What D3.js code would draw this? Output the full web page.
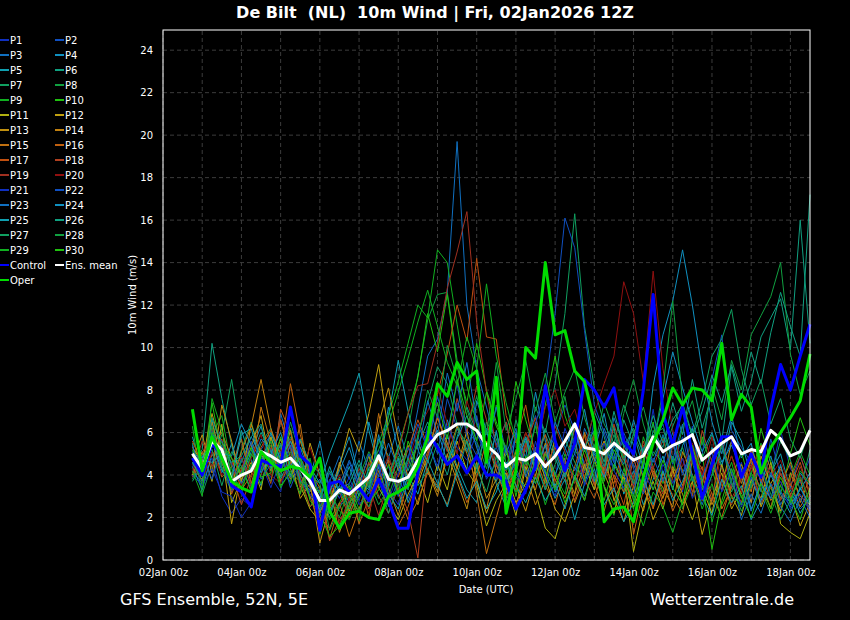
<!DOCTYPE html>
<html>
<head>
<meta charset="utf-8">
<script src="https://cdn.jsdelivr.net/npm/d3@7"></script>
<style>
  html, body { margin: 0; padding: 0; background: #000; }
  svg { display: block; font-family: "DejaVu Sans", sans-serif; }
</style>
</head>
<body>
<svg id="chart" width="850" height="620"></svg>
<script>
// run 02Jan2026 12Z, 6-hourly steps from +6h to +384h
const runTime = Date.UTC(2026, 0, 2, 12);
const stepHours = d3.range(6, 385, 6);

const memberNames = d3.range(1, 31).map((n) => "P" + n);
const memberColors = [
  "#1030c0", "#1050c0", "#1070c0", "#1090c0", "#10a0b0",
  "#10a080", "#10a060", "#10a040", "#10b020", "#20c010",
  "#b0b010", "#c0a010", "#c09010", "#c08010", "#c07010",
  "#c06010", "#c05010", "#b04020", "#a03020", "#901010",
];

const yTicks = d3.range(0, 25, 2);
const xTickDays = [2, 4, 6, 8, 10, 12, 14, 16, 18];

// ensemble members, m/s
const P1 = [4.2,3.6,4.8,3.0,2.2,2.9,2.5,4.4,3.9,3.2,5.6,4.0,3.4,2.1,3.0,2.4,
  3.6,2.8,4.1,5.2,3.3,2.6,4.4,5.8,4.6,6.9,5.2,7.4,6.1,5.5,3.8,4.6,
  3.1,5.9,4.2,3.6,5.1,3.9,6.2,5.0,4.1,6.6,3.8,4.9,5.8,3.5,4.4,7.1,
  4.0,5.6,3.2,6.3,2.9,4.8,5.5,3.4,4.6,2.7,5.2,3.9,6.1,4.3,3.6,4.8];
const P2 = [4.6,3.9,6.1,4.3,3.2,4.8,3.5,5.2,5.9,4.1,3.7,5.0,4.3,3.1,2.2,3.5,
  2.7,4.0,3.1,4.4,2.5,3.8,2.9,4.1,6.3,5.0,7.6,6.2,5.1,6.8,4.5,5.3,
  4.0,3.2,5.5,6.8,4.7,5.9,7.3,6.1,4.5,3.6,5.2,4.4,6.0,4.8,3.3,5.6,
  6.4,4.5,5.8,3.7,4.9,8.5,10.6,6.1,5.3,4.6,3.2,5.7,4.0,3.4,4.9,3.6];
const P3 = [5.1,4.4,5.3,6.2,3.9,4.6,5.8,4.9,4.2,6.9,5.3,3.8,3.0,2.4,3.7,4.9,
  3.8,5.6,4.2,3.5,4.8,6.3,4.7,7.1,9.6,10.4,12.6,19.7,12.0,9.0,7.2,5.4,
  6.5,4.1,5.8,4.6,3.3,5.4,4.6,3.8,6.2,5.1,4.3,6.7,5.4,4.5,3.4,5.1,
  4.6,6.0,4.1,5.2,3.5,2.8,4.5,5.6,3.9,2.3,3.7,4.4,2.6,3.5,2.4,2.9];
const P4 = [4.4,3.3,5.0,4.1,5.5,3.9,5.1,6.3,4.6,5.4,4.0,4.8,3.9,5.6,3.2,4.5,
  5.8,3.9,6.5,4.6,7.2,5.1,3.8,4.5,5.7,4.2,6.6,5.0,4.3,7.5,6.1,4.2,
  3.1,6.0,4.8,7.9,5.6,4.0,5.2,6.4,4.3,5.1,6.9,4.6,3.7,6.0,4.3,8.2,
  10.6,12.2,14.6,12.0,8.9,6.5,5.0,6.8,4.8,5.5,3.6,4.9,3.2,2.7,4.1,3.5];
const P5 = [5.8,4.2,6.6,4.5,4.0,6.1,4.7,3.5,5.2,3.9,4.6,5.7,4.4,3.6,5.0,6.2,
  7.4,8.8,6.1,4.3,6.8,9.4,7.0,5.2,4.1,3.4,5.9,4.4,3.3,2.7,4.8,3.6,
  2.5,4.1,3.2,5.3,4.1,2.9,3.8,1.9,3.6,5.0,4.2,6.3,3.1,4.2,2.6,3.8,
  4.9,3.3,5.4,6.2,3.7,5.3,4.4,6.5,5.6,3.9,2.6,4.1,5.0,3.3,2.2,3.0];
const P6 = [4.5,5.2,10.2,7.6,5.4,3.7,4.9,6.0,5.1,3.8,4.7,4.0,3.2,4.3,2.6,3.9,
  3.1,4.5,3.6,5.7,4.9,3.5,4.6,5.4,6.5,5.2,4.0,5.8,7.2,6.0,4.9,3.7,
  5.0,4.3,3.4,4.6,5.9,4.8,3.7,6.3,5.1,7.0,5.8,4.2,6.6,5.4,3.9,6.1,
  5.3,7.4,5.9,8.5,6.2,7.8,5.6,9.1,7.0,8.4,10.5,11.4,12.3,9.9,16.0,10.2];
const P7 = [5.5,3.1,4.5,5.9,8.5,5.6,4.2,5.5,6.2,4.5,5.8,4.7,3.6,2.8,4.2,3.3,
  2.2,3.1,4.0,2.9,3.8,4.6,3.3,5.9,7.4,9.1,8.3,6.4,5.2,4.1,6.5,5.7,
  4.2,6.6,5.1,7.2,6.0,8.3,11.6,16.3,11.0,8.1,6.4,5.5,7.3,6.0,4.8,5.9,
  6.2,4.6,5.3,3.7,4.8,5.9,4.4,3.2,4.5,3.6,5.1,4.0,5.6,4.7,3.3,5.2];
const P8 = [3.8,4.9,5.7,4.4,3.4,5.2,6.5,4.8,3.7,5.3,6.2,4.1,2.9,3.5,2.3,1.6,
  2.8,3.9,5.1,4.2,3.0,4.4,6.1,8.7,11.3,12.5,12.6,9.4,7.1,5.6,4.3,6.0,
  3.8,5.2,4.1,6.5,3.6,5.8,7.7,5.2,4.4,3.3,5.6,4.7,6.9,8.5,6.4,4.9,
  5.8,4.1,6.3,7.5,5.4,8.2,6.6,9.4,8.0,10.6,11.5,12.4,14.0,9.7,7.8,8.9];
const P9 = [6.3,3.4,5.9,6.8,4.3,3.1,5.0,4.2,5.7,4.8,3.6,5.3,4.6,1.2,2.9,2.0,
  3.4,1.8,4.6,5.5,6.8,8.4,10.2,12.0,11.4,14.6,14.0,11.1,8.2,6.4,5.1,7.3,
  4.5,3.2,5.6,4.3,2.6,4.0,3.1,5.5,4.2,6.1,3.4,2.1,4.3,3.0,5.8,4.4,
  3.2,4.9,2.4,3.6,5.0,1.8,3.3,4.6,2.9,4.1,5.5,3.4,2.2,3.9,5.1,4.0];
const P10 = [4.9,4.2,7.4,5.0,3.6,4.4,3.2,4.7,5.4,3.5,4.1,3.7,2.5,3.3,1.9,2.7,
  3.5,2.4,3.2,4.8,3.7,5.3,6.9,8.6,11.6,9.8,12.5,9.1,7.4,10.2,8.0,6.5,
  5.1,8.4,6.6,5.0,7.3,9.6,6.8,5.5,4.2,6.0,3.7,5.2,4.4,2.8,4.6,6.5,
  3.6,5.5,4.2,3.0,5.8,4.3,2.6,3.8,5.1,3.4,6.2,4.6,3.1,5.0,6.7,5.4];
const P11 = [4.0,5.1,3.7,6.4,2.7,3.8,4.6,3.3,5.8,4.4,6.1,3.5,2.4,1.8,2.9,3.8,
  2.3,3.6,4.9,3.4,2.6,1.9,3.1,4.0,2.7,4.5,3.3,5.6,4.2,3.5,1.6,2.8,
  3.6,2.1,4.4,3.2,1.5,1.0,2.6,3.9,2.8,4.7,3.5,2.2,4.1,0.4,2.5,3.7,
  2.4,4.2,3.1,1.9,3.4,2.2,4.5,3.0,2.1,3.8,2.9,4.6,1.7,1.3,1.0,2.2];
const P12 = [5.3,4.6,6.9,5.1,1.7,4.2,5.3,6.8,4.4,5.7,4.3,3.1,5.5,4.0,2.7,4.4,
  6.2,5.1,6.9,9.2,6.0,4.2,5.4,3.6,4.9,6.7,5.5,4.3,6.1,3.8,2.2,3.5,
  4.1,2.7,3.6,5.0,3.9,2.4,1.8,3.1,4.5,3.3,5.2,2.8,3.9,2.5,3.6,1.9,
  3.0,4.3,2.6,3.7,1.2,2.9,4.1,2.4,3.3,4.8,2.5,3.6,4.4,3.1,1.6,2.7];
const P13 = [4.7,5.9,4.1,7.3,5.6,3.7,6.4,5.0,4.2,6.6,4.8,2.9,3.6,0.8,2.5,4.6,
  3.1,2.2,4.0,6.4,8.1,5.7,3.9,2.6,4.3,3.2,5.0,3.7,2.4,4.6,2.9,3.8,
  5.2,3.5,2.3,4.0,5.5,3.4,4.8,2.7,3.9,5.4,4.1,2.9,1.8,3.5,2.3,4.2,
  3.4,2.5,5.1,4.0,2.8,4.5,3.3,5.6,4.2,2.7,4.9,3.5,2.3,4.1,3.0,2.6];
const P14 = [5.0,4.4,6.5,4.6,3.5,5.1,6.3,8.5,6.2,4.9,3.8,5.6,4.1,2.2,3.4,1.3,
  2.6,3.9,2.0,4.7,3.4,2.1,3.7,5.6,4.2,3.0,4.9,6.3,5.0,3.6,2.4,4.5,
  3.3,5.1,4.0,2.6,3.8,5.7,4.3,3.1,6.0,4.7,5.6,3.4,2.2,3.9,5.2,4.0,
  2.9,4.4,3.5,5.3,4.0,2.6,3.7,4.9,3.6,5.2,4.1,2.8,3.5,4.6,2.7,3.9];
const P15 = [4.3,3.8,5.4,6.0,4.8,3.3,4.0,7.2,5.5,3.7,4.5,6.4,3.4,2.0,1.5,2.7,
  1.1,2.4,3.8,6.9,4.6,3.2,1.9,2.8,4.1,3.5,2.6,4.3,5.7,3.1,0.3,2.0,
  3.7,2.5,4.6,3.3,5.1,3.8,2.9,4.4,5.9,3.6,2.3,4.0,3.2,5.0,3.9,2.4,
  4.1,3.0,2.2,4.7,3.6,5.2,2.4,3.4,4.5,3.2,5.4,4.3,2.9,3.6,2.5,3.3];
const P16 = [4.8,4.1,5.8,3.9,4.4,5.7,3.6,5.3,6.1,5.0,8.3,5.9,4.2,3.4,1.0,2.6,
  3.3,1.7,2.9,4.2,3.0,1.6,2.5,3.8,5.1,6.7,5.3,4.0,2.7,3.9,5.6,4.2,
  2.9,4.6,6.0,4.9,3.5,2.6,4.3,5.6,3.8,2.9,4.4,3.6,5.3,1.2,3.3,2.5,
  3.9,2.3,3.4,5.0,4.3,3.1,2.0,3.6,2.7,4.4,3.3,2.5,4.1,2.9,3.8,2.1];
const P17 = [5.6,4.5,4.9,5.7,3.1,4.3,5.5,4.7,3.6,7.1,6.0,4.5,3.0,1.6,2.4,3.2,
  2.0,3.5,2.4,3.6,4.7,3.9,5.2,6.6,5.4,7.8,9.7,12.0,10.3,14.2,10.5,10.4,
  6.8,5.5,7.3,4.8,5.9,3.7,4.6,6.2,4.9,3.5,5.1,3.9,2.6,4.8,3.2,4.4,
  2.6,3.9,4.8,3.2,4.4,2.8,5.6,4.0,3.1,4.7,3.8,2.4,4.3,3.5,4.6,3.0];
const P18 = [3.9,5.0,6.2,4.7,4.1,2.6,3.9,5.1,4.5,6.6,5.2,3.9,2.5,3.0,0.9,1.9,
  2.5,3.3,4.6,3.0,2.2,3.4,2.3,0.1,4.9,6.3,5.1,7.6,6.0,8.2,6.6,4.4,
  4.2,3.3,5.4,6.7,4.5,5.3,3.9,2.8,4.3,5.8,4.0,6.4,4.8,3.4,5.6,4.1,
  3.1,5.4,4.2,3.0,6.1,4.6,3.5,2.6,4.0,5.1,3.7,4.4,2.8,3.8,4.9,3.6];
const P19 = [4.1,5.6,4.4,5.2,3.8,4.9,3.4,4.0,5.3,4.1,5.7,3.3,4.5,2.7,3.6,1.7,
  2.9,4.3,3.5,2.1,3.7,5.1,6.9,8.2,8.3,10.2,12.8,14.5,16.4,11.2,7.9,5.3,
  6.5,4.2,5.5,3.8,4.9,6.3,5.1,3.6,4.6,5.9,4.4,3.2,5.0,3.8,5.4,4.3,
  5.7,4.0,3.3,4.8,3.5,5.2,4.3,2.9,3.8,4.5,2.7,3.4,4.1,3.0,4.4,3.2];
const P20 = [4.5,3.7,5.1,4.0,4.6,3.5,4.8,5.9,4.0,3.6,5.0,4.2,5.3,3.9,3.1,4.0,
  2.8,3.4,2.2,3.9,4.9,3.5,4.5,6.2,7.0,8.2,6.4,5.0,7.5,6.0,5.4,4.6,
  5.2,4.3,6.0,5.1,7.2,8.0,6.3,7.1,5.4,6.9,8.3,9.6,13.1,11.6,8.4,13.6,
  9.0,6.1,4.4,5.5,4.0,5.8,3.6,4.9,3.2,4.3,5.3,3.9,4.7,3.3,4.0,2.8];
const P21 = [4.0,3.5,4.3,3.2,3.0,2.0,2.7,4.6,3.4,4.7,3.9,4.4,3.1,2.5,3.8,2.9,
  3.9,2.6,3.2,4.5,2.8,4.1,5.3,4.2,5.6,4.4,6.3,5.3,4.7,6.0,4.9,3.8,
  5.4,4.2,3.1,5.6,4.0,3.0,4.7,5.8,3.5,4.6,5.5,4.2,3.4,5.0,4.1,3.3,
  4.5,3.6,4.8,2.9,3.9,5.1,3.2,4.3,2.5,3.5,4.4,2.9,3.7,2.4,3.1,2.3];
const P22 = [4.4,4.9,3.8,5.4,3.4,4.1,5.6,3.8,4.5,5.1,3.4,4.6,3.7,2.9,4.1,3.2,
  4.6,3.4,5.0,3.9,4.4,3.0,4.8,6.4,5.2,7.7,6.0,8.3,5.8,4.9,6.2,5.5,
  4.3,5.9,4.5,6.4,8.1,11.6,16.1,14.7,10.8,7.3,6.0,4.6,5.7,4.3,3.1,4.8,
  3.7,5.5,4.0,5.1,3.3,4.4,5.6,3.6,2.6,3.9,2.8,4.1,3.2,2.5,3.4,2.4];
const P23 = [5.4,4.0,5.9,5.6,4.5,3.6,4.4,5.7,5.2,4.3,5.4,3.7,3.3,3.8,2.8,3.5,
  4.7,3.6,2.8,4.0,5.5,4.3,3.4,5.0,7.5,5.9,8.8,7.0,9.3,6.5,5.0,7.2,
  5.0,6.2,3.9,5.2,4.1,6.5,5.3,4.2,5.5,3.7,6.2,5.0,4.0,3.1,5.3,4.6,
  5.9,4.7,6.4,3.9,2.6,4.0,5.3,4.1,1.9,3.1,2.2,3.6,2.5,1.8,2.9,2.0];
const P24 = [4.9,4.7,4.6,5.0,4.9,6.4,5.4,4.1,5.0,6.0,4.4,5.3,4.0,2.3,3.2,4.2,
  5.3,3.8,3.3,5.9,3.5,4.8,2.7,3.9,5.4,6.1,4.6,5.7,6.8,5.3,3.9,6.1,
  3.7,4.6,5.7,4.2,5.4,3.2,4.1,5.0,7.1,4.8,3.9,5.4,4.5,6.6,4.9,5.5,
  7.6,9.8,8.1,6.5,5.1,6.0,4.6,5.4,4.3,2.4,3.6,2.9,4.5,2.6,3.3,4.1];
const P25 = [5.0,4.8,5.6,4.2,3.8,5.9,6.2,4.5,6.0,4.7,5.6,4.5,3.8,2.9,4.4,3.1,
  4.4,3.0,4.3,5.0,3.1,2.4,4.0,3.1,4.7,3.6,2.5,4.1,2.9,3.7,2.4,3.2,
  4.6,3.5,2.7,3.9,2.8,3.6,2.4,4.0,3.0,4.3,2.6,3.4,1.8,2.7,3.9,2.6,
  4.2,2.8,3.7,5.0,3.0,2.1,3.8,2.7,3.5,1.9,2.8,4.0,3.1,2.2,3.4,2.6];
const P26 = [4.6,3.7,6.7,5.3,4.6,4.9,5.8,6.4,4.3,5.5,3.9,5.7,4.5,4.1,2.2,3.3,
  3.6,4.7,3.4,4.9,3.9,5.4,4.2,5.5,4.6,6.0,5.3,4.0,5.6,4.3,6.1,5.0,
  3.4,4.9,5.8,4.3,6.2,5.0,3.9,6.5,5.3,6.1,4.6,7.0,5.3,6.2,5.1,6.8,
  5.5,6.6,7.3,5.8,7.0,8.7,7.4,9.2,7.6,9.8,8.3,10.7,12.6,11.0,9.6,17.2];
const P27 = [3.7,4.5,5.2,3.5,5.1,4.4,3.3,5.2,4.7,3.9,6.5,4.9,3.5,3.2,2.0,3.4,
  2.4,3.3,2.5,3.8,2.2,3.6,4.8,3.5,4.2,5.5,4.5,6.2,5.5,4.3,3.2,4.9,
  2.8,3.9,3.4,4.7,3.3,4.5,5.7,4.6,3.7,5.4,4.4,5.9,4.7,3.6,5.1,6.4,
  5.0,6.3,7.4,5.9,7.5,9.6,10.4,11.8,9.0,7.3,8.5,6.4,7.6,5.7,4.8,6.2];
const P28 = [4.8,4.3,6.3,4.4,3.3,4.7,5.0,4.3,5.6,4.2,5.1,3.6,4.0,3.6,1.4,2.5,
  3.0,2.3,3.7,2.6,3.4,4.9,3.7,5.7,8.0,6.7,10.1,8.5,6.2,7.7,5.9,9.3,
  6.1,7.6,9.4,7.0,8.8,6.5,7.9,9.0,6.7,5.3,7.4,6.1,4.8,5.9,7.2,5.4,
  8.0,12.2,7.5,4.6,2.9,4.0,5.4,3.7,2.3,3.5,4.4,3.1,1.9,2.8,3.9,2.7];
const P29 = [4.2,3.0,7.6,6.1,4.0,3.4,4.5,3.6,4.9,3.4,4.2,3.1,4.8,2.5,3.3,2.3,
  1.9,3.0,4.1,5.2,6.4,7.9,9.5,11.2,12.7,11.0,9.3,8.2,10.5,9.0,13.0,9.6,
  7.4,5.6,4.5,6.3,4.2,3.3,5.0,3.9,2.8,4.6,3.5,2.6,3.8,2.9,1.6,3.2,
  2.5,1.3,2.8,4.0,2.4,3.6,1.9,3.0,2.6,4.1,3.3,2.2,3.5,2.7,4.2,3.6];
const P30 = [5.2,4.0,6.0,5.5,4.8,4.0,5.3,3.9,4.1,5.8,4.3,4.8,2.8,2.2,1.1,1.6,
  2.6,3.7,2.7,3.3,4.5,3.1,5.6,4.4,6.0,7.4,5.7,8.5,6.8,5.6,7.9,6.3,
  5.3,3.0,4.9,3.6,5.0,4.1,2.7,3.8,5.2,3.9,2.8,4.5,3.6,2.4,4.8,3.3,
  4.7,3.4,2.6,5.4,3.7,0.5,2.8,4.3,3.0,2.0,3.6,2.4,3.9,2.9,1.9,3.4];

const controlRun = [4.8,4.0,5.5,4.9,3.5,3.2,2.5,4.7,4.5,4.4,7.2,4.9,4.5,1.4,3.6,3.7,
  3.2,3.4,2.8,3.8,2.8,1.5,1.5,4.1,6.0,5.3,4.5,4.9,4.1,4.9,4.0,4.0,
  3.7,2.4,3.3,4.4,8.2,5.6,4.2,5.5,8.5,8.0,7.2,8.1,5.6,5.0,8.0,12.5,
  6.9,5.4,7.2,5.0,2.9,4.5,5.8,5.8,3.9,5.0,3.9,7.1,9.2,8.0,9.6,11.1];
const operRun = [7.1,4.2,5.8,4.8,3.7,3.4,3.2,5.1,4.6,4.2,4.4,4.3,3.9,4.8,2.3,1.5,
  2.2,2.3,2.0,1.9,3.0,3.2,3.5,4.4,5.8,8.3,7.7,9.3,8.5,8.9,4.6,8.6,
  2.2,4.2,10.0,9.5,14.0,10.6,10.8,8.9,8.4,6.5,1.8,2.4,2.5,1.8,3.9,5.5,
  6.6,8.1,7.3,8.1,8.0,7.5,10.2,6.6,7.8,7.2,4.1,5.3,6.0,6.7,7.5,9.7];
const ensMean = [5.0,4.3,5.6,5.2,3.7,4.0,4.2,5.1,4.9,4.6,4.8,4.3,3.7,2.8,2.8,3.3,
  3.1,3.5,3.9,4.9,3.8,3.7,3.9,4.7,5.3,5.9,6.1,6.4,6.4,6.1,5.4,5.0,
  4.4,4.8,4.7,5.0,4.4,4.9,5.6,6.4,5.3,5.2,5.0,5.5,5.1,4.7,4.9,5.8,
  5.1,5.4,5.6,5.9,4.7,5.1,5.5,5.8,5.0,5.2,5.1,6.1,5.7,4.9,5.1,6.1];

const members = [P1, P2, P3, P4, P5, P6, P7, P8, P9, P10,
  P11, P12, P13, P14, P15, P16, P17, P18, P19, P20,
  P21, P22, P23, P24, P25, P26, P27, P28, P29, P30];

const svg = d3.select("#chart");
const W = 850, H = 620;
const margin = { top: 30, right: 40, bottom: 60, left: 163 };

svg.append("rect").attr("width", W).attr("height", H).attr("fill", "#000");

const times = stepHours.map((h) => new Date(runTime + h * 3600e3));

const x = d3.scaleUtc()
  .domain([new Date(Date.UTC(2026, 0, 2, 0)), new Date(Date.UTC(2026, 0, 18, 12))])
  .range([margin.left, W - margin.right]);
const y = d3.scaleLinear()
  .domain([0, 24.95])
  .range([H - margin.bottom, margin.top]);

// grid
const grid = svg.append("g");
grid.selectAll("line.hg")
  .data(yTicks)
  .join("line")
  .attr("x1", x.range()[0]).attr("x2", x.range()[1])
  .attr("y1", (d) => y(d)).attr("y2", (d) => y(d))
  .attr("stroke", "#3c3c3c").attr("stroke-dasharray", "4,3");
grid.selectAll("line.vg")
  .data(d3.utcDay.range(x.domain()[0], x.domain()[1]))
  .join("line")
  .attr("x1", (d) => x(d)).attr("x2", (d) => x(d))
  .attr("y1", y.range()[0]).attr("y2", y.range()[1])
  .attr("stroke", "#3c3c3c").attr("stroke-dasharray", "4,3");

// lines
const line = d3.line()
  .x((d, i) => x(times[i]))
  .y((d) => y(d));

const plot = svg.append("g");
plot.selectAll("path.member")
  .data(members)
  .join("path")
  .attr("class", "member")
  .attr("d", line)
  .attr("fill", "none")
  .attr("stroke", (d, i) => memberColors[i % 20])
  .attr("stroke-width", 1);

plot.append("path").attr("d", line(controlRun))
  .attr("fill", "none").attr("stroke", "#0000ff").attr("stroke-width", 3)
  .attr("stroke-linejoin", "round");
plot.append("path").attr("d", line(ensMean))
  .attr("fill", "none").attr("stroke", "#ffffff").attr("stroke-width", 3)
  .attr("stroke-linejoin", "round");
plot.append("path").attr("d", line(operRun))
  .attr("fill", "none").attr("stroke", "#00dd00").attr("stroke-width", 3)
  .attr("stroke-linejoin", "round");

// frame
svg.append("rect")
  .attr("x", x.range()[0]).attr("y", y.range()[1])
  .attr("width", x.range()[1] - x.range()[0])
  .attr("height", y.range()[0] - y.range()[1])
  .attr("fill", "none").attr("stroke", "#ffffff").attr("stroke-width", 1);

// axes
const xAxis = svg.append("g")
  .attr("transform", `translate(0,${y.range()[0]})`)
  .call(d3.axisBottom(x)
    .tickValues(xTickDays.map((d) => new Date(Date.UTC(2026, 0, d))))
    .tickFormat(d3.utcFormat("%d%b %Hz"))
    .tickSize(0).tickPadding(9));
xAxis.select(".domain").remove();
xAxis.selectAll("text").attr("fill", "#fff").style("font-size", "10px")
  .style("font-family", "DejaVu Sans");

const yAxis = svg.append("g")
  .attr("transform", `translate(${x.range()[0]},0)`)
  .call(d3.axisLeft(y).tickValues(yTicks).tickSize(0).tickPadding(10));
yAxis.select(".domain").remove();
yAxis.selectAll("text").attr("fill", "#fff").style("font-size", "10px")
  .style("font-family", "DejaVu Sans");

svg.append("text")
  .attr("x", 486).attr("y", 593)
  .attr("text-anchor", "middle").attr("fill", "#fff")
  .style("font-size", "10px").text("Date (UTC)");
svg.append("text")
  .attr("transform", "translate(136,295) rotate(-90)")
  .attr("text-anchor", "middle").attr("fill", "#fff")
  .style("font-size", "10px").text("10m Wind (m/s)");

// title + footer
svg.append("text")
  .attr("x", 435).attr("y", 18)
  .attr("text-anchor", "middle").attr("fill", "#fff")
  .style("font-size", "16px").style("font-weight", "bold")
  .style("white-space", "pre")
  .text("De Bilt  (NL)  10m Wind | Fri, 02Jan2026 12Z");
svg.append("text")
  .attr("x", 120).attr("y", 605).attr("fill", "#fff")
  .style("font-size", "16px").text("GFS Ensemble, 52N, 5E");
svg.append("text")
  .attr("x", 794).attr("y", 605).attr("text-anchor", "end").attr("fill", "#fff")
  .style("font-size", "16px").text("Wetterzentrale.de");

// legend
const legendItems = memberNames.map((n, i) => ({ name: n, color: memberColors[i % 20] }))
  .concat([
    { name: "Control", color: "#0000ff" },
    { name: "Ens. mean", color: "#ffffff" },
    { name: "Oper", color: "#00dd00" },
  ]);
const legend = svg.append("g");
const lg = legend.selectAll("g")
  .data(legendItems)
  .join("g")
  .attr("transform", (d, i) => `translate(${(i % 2) * 55},${40 + Math.floor(i / 2) * 15})`);
lg.append("line")
  .attr("x1", 0).attr("x2", 9).attr("y1", 0).attr("y2", 0)
  .attr("stroke", (d) => d.color).attr("stroke-width", 2);
lg.append("text")
  .attr("x", 10).attr("y", 4).attr("fill", "#fff")
  .style("font-size", "10px").text((d) => d.name);
</script>
</body>
</html>
